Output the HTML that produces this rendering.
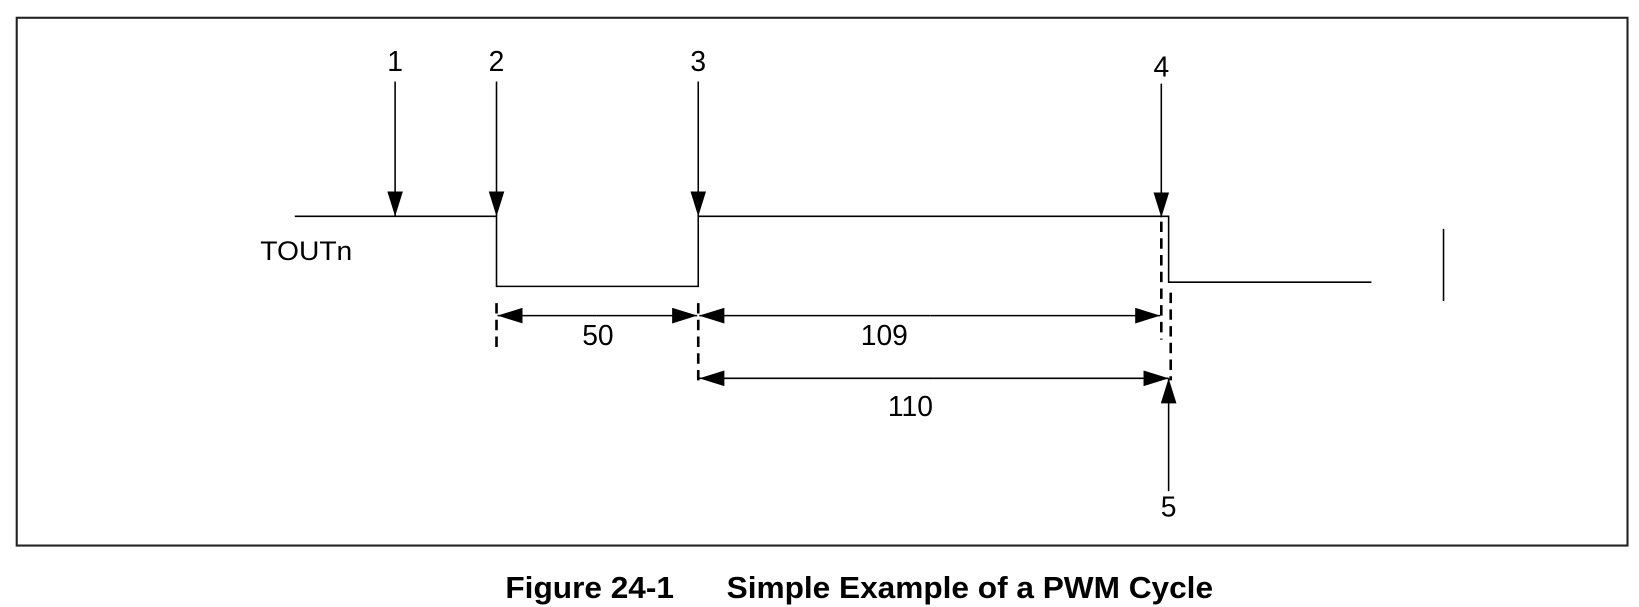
<!DOCTYPE html>
<html><head><meta charset="utf-8"><style>
html,body{margin:0;padding:0;background:#fff;}
svg{display:block;}
text{font-family:"Liberation Sans",Arial,sans-serif;fill:#000;}
</style></head><body>
<svg width="1639" height="607" viewBox="0 0 1568 580.8" preserveAspectRatio="none" xmlns="http://www.w3.org/2000/svg">
<defs>
<marker id="ah" viewBox="0 0 10 10" refX="10" refY="5" markerWidth="24" markerHeight="15" markerUnits="userSpaceOnUse" orient="auto" preserveAspectRatio="none">
<path d="M0,0 L10,5 L0,10 z" fill="#000"/>
</marker>
</defs>
<rect x="16" y="17" width="1541" height="505" fill="none" stroke="#222" stroke-width="2"/>
<g fill="none" stroke="#000" stroke-width="1.5">
<polyline points="282,207 475,207 475,274 668,274 668,207 1118,207 1118,270 1312,270"/>
<line x1="1381" y1="219" x2="1381" y2="288"/>
</g>
<text x="249" y="249" font-size="26" textLength="88" lengthAdjust="spacingAndGlyphs">TOUTn</text>
<g stroke="#000" stroke-width="1.5">
<line x1="378" y1="78" x2="378" y2="207" marker-end="url(#ah)"/>
<line x1="475" y1="78" x2="475" y2="207" marker-end="url(#ah)"/>
<line x1="668" y1="78" x2="668" y2="207" marker-end="url(#ah)"/>
<line x1="1111" y1="80" x2="1111" y2="208" marker-end="url(#ah)"/>
<line x1="1118" y1="470" x2="1118" y2="362" marker-end="url(#ah)"/>
</g>
<g font-size="27" text-anchor="middle">
<text x="378" y="68">1</text>
<text x="475" y="68">2</text>
<text x="668" y="68">3</text>
<text x="1111" y="73">4</text>
<text x="1118" y="494">5</text>
</g>
<g stroke="#000" stroke-width="2.5" stroke-dasharray="10,6">
<line x1="475" y1="290" x2="475" y2="336"/>
<line x1="668" y1="290" x2="668" y2="364"/>
<line x1="1111" y1="212" x2="1111" y2="325"/>
<line x1="1120" y1="280" x2="1120" y2="364"/>
</g>
<g stroke="#000" stroke-width="1.5">
<line x1="571" y1="302" x2="476" y2="302" marker-end="url(#ah)"/>
<line x1="571" y1="302" x2="667" y2="302" marker-end="url(#ah)"/>
<line x1="890" y1="302" x2="669" y2="302" marker-end="url(#ah)"/>
<line x1="890" y1="302" x2="1110" y2="302" marker-end="url(#ah)"/>
<line x1="893" y1="362" x2="669" y2="362" marker-end="url(#ah)"/>
<line x1="893" y1="362" x2="1118" y2="362" marker-end="url(#ah)"/>
</g>
<g font-size="27" text-anchor="middle">
<text x="572" y="330">50</text>
<text x="846" y="330">109</text>
<text x="871" y="398">110</text>
</g>
<text x="822" y="572" font-size="29" font-weight="bold" text-anchor="middle" textLength="677" lengthAdjust="spacingAndGlyphs" xml:space="preserve">Figure 24-1      Simple Example of a PWM Cycle</text>
</svg>
</body></html>
